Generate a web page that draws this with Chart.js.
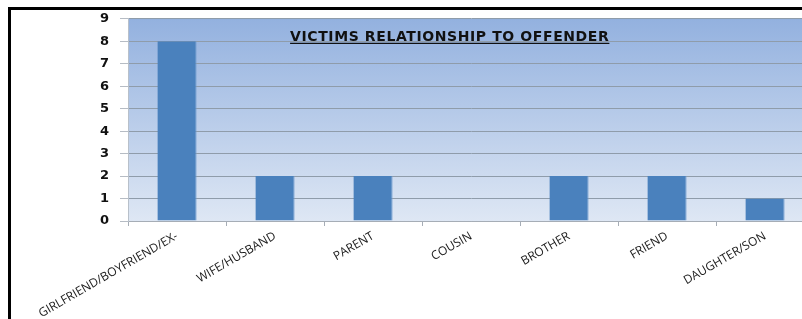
<!DOCTYPE html>
<html>
<head>
<meta charset="utf-8">
<script src="https://cdn.jsdelivr.net/npm/chart.js@4"></script>
<style>
  html, body { margin: 0; padding: 0; background: #fff; overflow: hidden; }
  #wrap { position: relative; width: 802px; height: 319px; overflow: hidden; }
  #chart { position: absolute; left: 0; top: 0; }
  #frame {
    position: absolute; left: 8px; top: 7px; width: 900px; height: 400px;
    border-left: 3px solid #000; border-top: 3px solid #000; pointer-events: none;
  }
</style>
</head>
<body>
<div id="wrap">
  <canvas id="chart" width="830" height="319" style="width:830px;height:319px"></canvas>
  <div id="frame"></div>
</div>
<script>
// chart data
const chartTitle = 'VICTIMS RELATIONSHIP TO OFFENDER';
const categories = ['GIRLFRIEND/BOYFRIEND/EX-', 'WIFE/HUSBAND', 'PARENT', 'COUSIN', 'BROTHER', 'FRIEND', 'DAUGHTER/SON'];
const victimCounts = [8, 2, 2, 0, 2, 2, 1];
const yTicks = [0, 1, 2, 3, 4, 5, 6, 7, 8, 9];

// gradient plot background + underlined title inside plot
const plotDecor = {
  id: 'plotDecor',
  beforeDraw(chart) {
    const { ctx, chartArea: a } = chart;
    const g = ctx.createLinearGradient(0, a.top, 0, a.bottom);
    g.addColorStop(0, '#93b1df');
    g.addColorStop(1, '#dee7f4');
    ctx.save();
    ctx.fillStyle = g;
    ctx.fillRect(a.left, a.top, a.right - a.left, a.bottom - a.top);
    ctx.restore();
  },
  afterDatasetsDraw(chart) {
    const { ctx, chartArea: a } = chart;
    ctx.save();
    ctx.font = 'bold 14px "DejaVu Sans"';
    ctx.letterSpacing = '0.6px';
    ctx.fillStyle = '#111';
    ctx.textAlign = 'center';
    ctx.textBaseline = 'alphabetic';
    const cx = a.left + (a.right - a.left) * 0.469;
    const by = a.top + 22;
    ctx.fillText(chartTitle, cx, by);
    const w = ctx.measureText(chartTitle).width;
    ctx.strokeStyle = '#111';
    ctx.lineWidth = 1.3;
    ctx.beginPath();
    ctx.moveTo(cx - w / 2, by + 2.5);
    ctx.lineTo(cx + w / 2, by + 2.5);
    ctx.stroke();
    ctx.restore();
  }
};

new Chart(document.getElementById('chart'), {
  type: 'bar',
  data: {
    labels: categories,
    datasets: [{
      data: victimCounts,
      backgroundColor: '#4a81bd',
      borderColor: '#6e9bd0',
      borderWidth: { left: 0, right: 1, top: 0, bottom: 0 },
      categoryPercentage: 1,
      barPercentage: 0.4
    }]
  },
  options: {
    responsive: false,
    animation: false,
    layout: { padding: { top: 16, left: 0, right: 16, bottom: 0 } },
    plugins: { legend: { display: false }, tooltip: { enabled: false } },
    scales: {
      x: {
        afterFit(scale) { scale.height = 98; },
        grid: { offset: true, drawOnChartArea: false, tickLength: 5, color: '#a6adb6' },
        border: { color: '#a6adb6' },
        ticks: {
          minRotation: 30, maxRotation: 30, autoSkip: false, padding: 3,
          color: '#1a1a1a', font: { family: '"Open Sans"', size: 12 }
        }
      },
      y: {
        min: 0, max: 9,
        afterFit(scale) { scale.width = 128; },
        afterBuildTicks(scale) { scale.ticks = yTicks.map(v => ({ value: v })); },
        grid: { color: '#8f9caa', tickLength: 8, tickColor: '#b6bcc4' },
        border: { color: '#b8c0ca' },
        ticks: {
          padding: 11, color: '#111',
          font: { family: '"DejaVu Sans"', size: 13, weight: 'bold' }
        }
      }
    }
  },
  plugins: [plotDecor]
});
</script>
</body>
</html>
